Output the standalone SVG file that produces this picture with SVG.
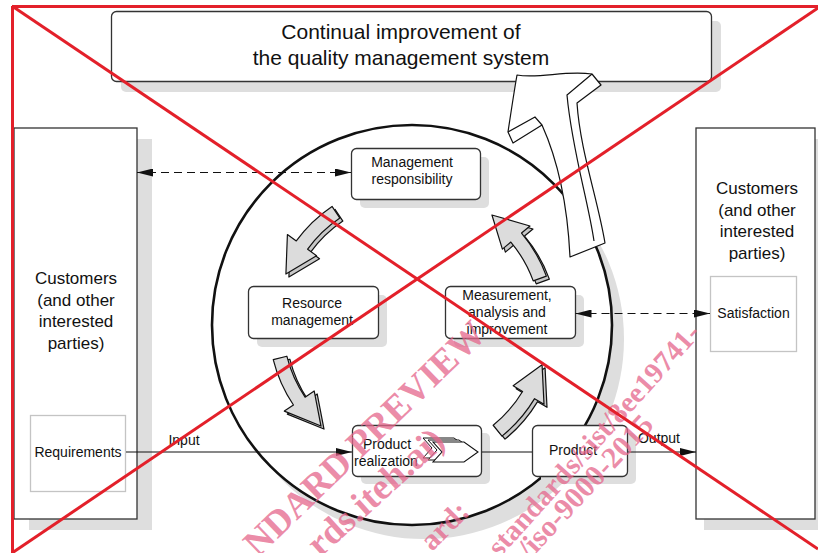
<svg xmlns="http://www.w3.org/2000/svg" xmlns:xlink="http://www.w3.org/1999/xlink" width="818" height="553" viewBox="0 0 818 553">
<style>
.t{font-family:"Liberation Sans",Arial,sans-serif;fill:#111;text-anchor:middle}
.s14{font-size:14px}
.s17{font-size:17px}
.s21{font-size:21px}
.box{fill:#fff;stroke:#333;stroke-width:1.3}
.shadow{fill:#dedede}
.inner{fill:#fff;stroke:#c4c4c4;stroke-width:1.3}
.line{fill:none;stroke:#111;stroke-width:1.2}
.dash{fill:none;stroke:#111;stroke-width:1.2;stroke-dasharray:8 5}
.cyc{fill:#dcdcdc;stroke:#111;stroke-width:1.2;stroke-linejoin:round}
.cycb{fill:#c8c8c8;stroke:#111;stroke-width:1.2;stroke-linejoin:round}
.big{fill:#fff;stroke:#111;stroke-width:1.2;stroke-linejoin:round}
.wm{font-family:"Liberation Serif","Times New Roman",serif;font-weight:bold;fill:#e5668c;fill-opacity:0.75}
.red{stroke:#e3202a;stroke-width:3;fill:none}
</style>
<defs>
<marker id="arr" viewBox="0 0 16 8" refX="16" refY="4" markerWidth="16" markerHeight="8" markerUnits="userSpaceOnUse" orient="auto-start-reverse">
<path d="M0,0 L16,4 L0,8 Z" fill="#111"/>
</marker>
<path id="cycarrow" d="M143,0 L129,0 A129,129 0 0 0 121.22,-44.12 L110.88,-40.36 L112.75,-76.05 L144.71,-52.67 L134.38,-48.91 A143,143 0 0 1 143,0 Z"/>
<path id="chev" d="M433,442 L464,442 L478,452 L464,462 L433,462 L442,452 Z"/>
</defs>

<rect width="818" height="553" fill="#fff"/>

<g id="top-box">
<rect class="shadow" x="121" y="21" width="600" height="71" rx="5"/>
<rect class="box" x="111.5" y="11.5" width="600" height="70" rx="5"/>
<text class="t s21" x="401" y="39">Continual improvement of</text>
<text class="t s21" x="401" y="64.5">the quality management system</text>
</g>

<g id="customers-left">
<rect class="shadow" x="29" y="139" width="123" height="391"/>
<rect class="box" x="14" y="128" width="123" height="391"/>
<text class="t s17" x="76" y="284">Customers</text>
<text class="t s17" x="76" y="305.5">(and other</text>
<text class="t s17" x="76" y="327">interested</text>
<text class="t s17" x="76" y="348.5">parties)</text>
</g>
<g id="requirements">
<rect class="inner" x="30.5" y="415.5" width="95" height="76"/>
<text class="t s14" x="78" y="457">Requirements</text>
</g>

<g id="customers-right">
<rect class="shadow" x="704" y="139" width="120" height="391"/>
<rect class="box" x="696" y="128" width="119" height="391"/>
<text class="t s17" x="757" y="194">Customers</text>
<text class="t s17" x="757" y="215.5">(and other</text>
<text class="t s17" x="757" y="237">interested</text>
<text class="t s17" x="757" y="258.5">parties)</text>
</g>
<g id="satisfaction">
<rect class="inner" x="710.5" y="276.5" width="86" height="75"/>
<text class="t s14" x="753.5" y="318">Satisfaction</text>
</g>

<g id="cycle">
<circle cx="424" cy="339" r="200" fill="#dedede"/>
<circle cx="412" cy="325" r="200" fill="#fff" stroke="#111" stroke-width="2.6"/>
</g>

<g id="management-responsibility">
<rect class="shadow" x="360" y="157" width="129" height="51" rx="5"/>
<rect class="box" x="351.5" y="148.5" width="129" height="51" rx="5"/>
<text class="t s14" x="412" y="167">Management</text>
<text class="t s14" x="412" y="184">responsibility</text>
</g>

<g id="resource-management">
<rect class="shadow" x="257" y="295" width="130" height="52" rx="5"/>
<rect class="box" x="248.5" y="286.5" width="130" height="52" rx="5"/>
<text class="t s14" x="312" y="308">Resource</text>
<text class="t s14" x="312" y="325">management</text>
</g>

<g id="measurement">
<rect class="shadow" x="454" y="295" width="130" height="52" rx="5"/>
<rect class="box" x="445.5" y="286.5" width="130" height="52" rx="5"/>
<text class="t s14" x="507" y="300">Measurement,</text>
<text class="t s14" x="507" y="317">analysis and</text>
<text class="t s14" x="507" y="334">improvement</text>
</g>

<g id="product-realization">
<rect class="shadow" x="361" y="433" width="129" height="51" rx="5"/>
<rect class="box" x="352.5" y="425.5" width="129" height="51" rx="5"/>
<text class="t s14" x="387" y="449">Product</text>
<text class="t s14" x="386" y="466">realization</text>
<use xlink:href="#chev" transform="translate(-10,-4)" fill="#fff" stroke="#111" stroke-width="1"/>
<use xlink:href="#chev" transform="translate(-5,-2)" fill="#fff" stroke="#111" stroke-width="1"/>
<use xlink:href="#chev" fill="#fff" stroke="#111" stroke-width="1.1"/>
</g>

<g id="product">
<rect class="shadow" x="541" y="433" width="95" height="51" rx="5"/>
<rect class="box" x="532.5" y="425.5" width="95" height="51" rx="5"/>
<text class="t s14" x="573" y="455">Product</text>
</g>

<g id="connectors">
<line class="dash" x1="351" y1="172.5" x2="137" y2="172.5" marker-start="url(#arr)" marker-end="url(#arr)"/>
<line class="dash" x1="575.5" y1="313.5" x2="710" y2="313.5" marker-start="url(#arr)" marker-end="url(#arr)"/>
<line class="line" x1="126" y1="452" x2="352" y2="452" marker-end="url(#arr)"/>
<text class="t s14" x="184" y="445">Input</text>
<line class="line" x1="482" y1="452" x2="532" y2="452"/>
<line class="line" x1="628" y1="452" x2="696" y2="452" marker-end="url(#arr)"/>
<text class="t s14" x="659" y="443">Output</text>
<g id="cycle-arrows">
<g transform="translate(415,328) rotate(236)"><use xlink:href="#cycarrow" class="cycb"/></g>
<g transform="translate(412,325) rotate(236)"><use xlink:href="#cycarrow" class="cyc"/></g>
<g transform="translate(415,328) rotate(-20)"><use xlink:href="#cycarrow" class="cycb"/></g>
<g transform="translate(412,325) rotate(-20)"><use xlink:href="#cycarrow" class="cyc"/></g>
<g transform="translate(415,328) rotate(166)"><use xlink:href="#cycarrow" class="cycb"/></g>
<g transform="translate(412,325) rotate(166)"><use xlink:href="#cycarrow" class="cyc"/></g>
<g transform="translate(415,328) rotate(51)"><use xlink:href="#cycarrow" class="cycb"/></g>
<g transform="translate(412,325) rotate(51)"><use xlink:href="#cycarrow" class="cyc"/></g>
</g>
<g id="improvement-arrow">
<path class="big" d="M517,75 C540,79 565,70 592,74 L601,85 L577,103 C580,150 598,200 605,243 L570,257 C568,215 560,165 542,125 L513,143 L508,132 C511,112 514,92 517,75 Z"/>
<path class="line" d="M592,74 L567,95 C572,150 588,200 594,241"/>
<path class="line" d="M508,132 L535,117 L542,125"/>
</g>
</g>

<g id="watermark">
<text class="wm" font-size="37" transform="translate(258,558) rotate(-44)">NDARD PREVIEW</text>
<text class="wm" font-size="37" transform="translate(320,558) rotate(-42)">rds.iteh.ai)</text>
<text class="wm" font-size="30" transform="translate(432,552) rotate(-45)">ard:</text>
<text class="wm" font-size="29" transform="translate(500,558) rotate(-48)">standards/sist/8ee19741-</text>
<text class="wm" font-size="30" transform="translate(530,560) rotate(-47)">/iso-9000-2015</text>
</g>

<g id="red-x">
<line class="red" x1="12" y1="6.5" x2="818" y2="6.5"/>
<line class="red" x1="12.5" y1="6" x2="12.5" y2="553"/>
<line class="red" x1="12" y1="6" x2="818" y2="549"/>
<line class="red" x1="818" y1="8" x2="12" y2="553"/>
</g>
</svg>
